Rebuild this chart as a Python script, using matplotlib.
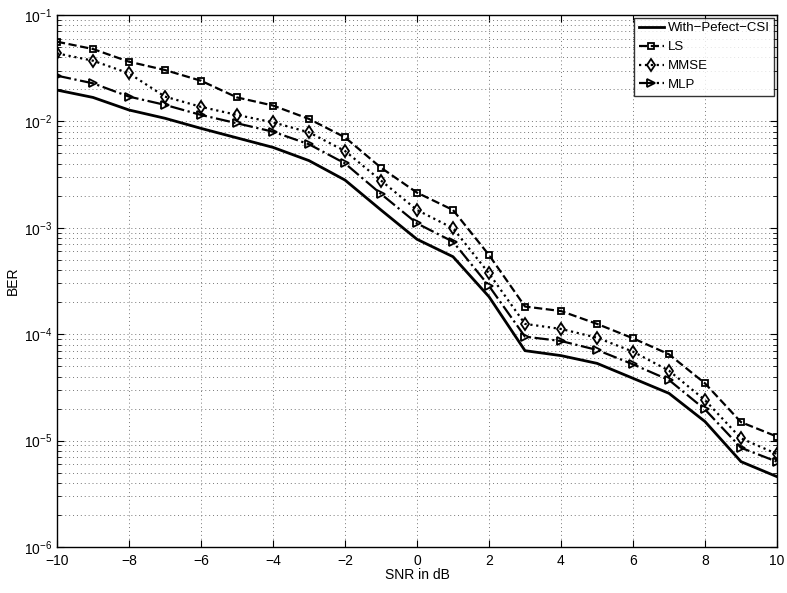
import matplotlib
matplotlib.use("Agg")
import matplotlib.pyplot as plt
import numpy as np

snr = list(range(-10, 11))
perfect = [0.0197, 0.0168, 0.0128, 0.0107, 0.0086, 0.0070, 0.0057, 0.00428, 0.00281, 0.00147,
           0.00078, 0.000535, 0.000225, 7.0e-5, 6.29e-5, 5.32e-5, 3.85e-5, 2.78e-5, 1.51e-5, 6.34e-6, 4.58e-6]
ls = [0.0561, 0.0479, 0.0364, 0.0304, 0.0241, 0.0168, 0.0141, 0.01055, 0.00708, 0.00367,
      0.00214, 0.00147, 0.000555, 0.000182, 0.000165, 0.000125, 9.15e-5, 6.47e-5, 3.45e-5, 1.49e-5, 1.09e-5]
mmse = [0.0436, 0.0372, 0.0283, 0.0171, 0.0137, 0.0115, 0.0098, 0.00789, 0.00527, 0.00278,
        0.00147, 0.00099, 0.000373, 1.25e-4, 1.12e-4, 9.27e-5, 6.85e-5, 4.54e-5, 2.40e-5, 1.05e-5, 7.48e-6]
mlp = [0.0269, 0.0228, 0.0171, 0.0143, 0.0115, 0.0096, 0.0080, 0.0061, 0.00403, 0.00208,
       0.00110, 0.00074, 0.000284, 9.48e-5, 8.63e-5, 7.11e-5, 5.21e-5, 3.71e-5, 1.96e-5, 8.56e-6, 6.33e-6]
xticks = [-10, -8, -6, -4, -2, 0, 2, 4, 6, 8, 10]

plt.rcParams['font.family'] = ['Liberation Sans', 'DejaVu Sans']
fig = plt.figure(figsize=(7.87, 5.93), dpi=100)
ax = fig.add_axes([0.0724, 0.0776, 0.9149, 0.8971])

ax.semilogy(snr, perfect, '-', color='black', lw=2.0, label='With\u2212Pefect\u2212CSI')
ax.semilogy(snr, ls, '--', color='black', lw=1.6, marker='s', ms=5, mfc='none', mew=1.3, label='LS')
ax.semilogy(snr, mmse, ':', color='black', lw=1.6, marker='d', ms=6, mfc='none', mew=1.3, label='MMSE')
ax.semilogy(snr, mlp, '-.', color='black', lw=1.6, marker='>', ms=6, mfc='none', mew=1.3, label='MLP')

ax.set_xlim(-10, 10)
ax.set_ylim(1e-6, 1e-1)
ax.set_xticks(xticks)
ax.set_xticklabels([str(t).replace('-', '\u2212') for t in xticks])
grid_style = dict(linestyle=(0, (1, 3)), color='#777777', lw=0.7)
ax.grid(True, which='major', axis='x', **grid_style)
ax.grid(True, which='both', axis='y', **grid_style)
ax.tick_params(which='both', direction='in', top=True, right=True, labelsize=10)
ax.tick_params(which='major', length=5)
ax.tick_params(which='minor', length=3)
ax.tick_params(axis='x', pad=5)
ax.set_xlabel('SNR in dB', fontsize=10, labelpad=0)
ax.set_ylabel('BER', fontsize=10, labelpad=3)
for s in ax.spines.values():
    s.set_linewidth(1.0)

leg = ax.legend(loc='upper right', fontsize=9.5, fancybox=False, edgecolor='black',
                handlelength=1.9, borderaxespad=0.2, labelspacing=0.5, handletextpad=0.3,
                borderpad=0.35)
leg.get_frame().set_linewidth(1.0)

fig.savefig('out.png', dpi=100)
